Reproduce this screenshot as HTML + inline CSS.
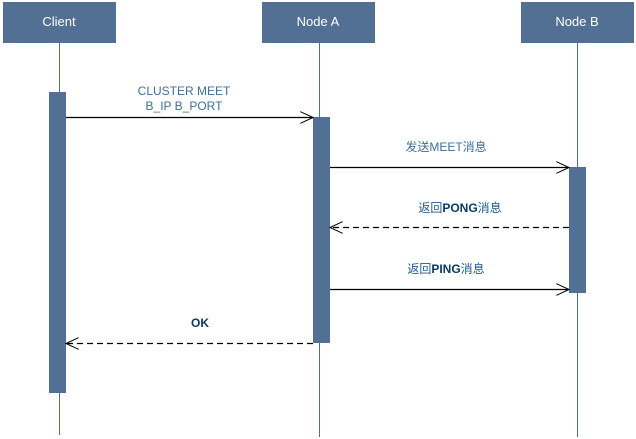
<!DOCTYPE html>
<html><head><meta charset="utf-8"><style>
html,body{margin:0;padding:0;background:#fff;}
svg{display:block}
</style></head><body>
<svg width="636" height="439" xmlns="http://www.w3.org/2000/svg" font-family="Liberation Sans, Noto Sans CJK SC, sans-serif">
<defs>
<marker id="a" markerWidth="14" markerHeight="12" refX="13" refY="6" orient="auto" markerUnits="userSpaceOnUse">
<path d="M0,0 L13,6 L0,12" fill="none" stroke="#000" stroke-width="1"/>
</marker>
</defs>
<g stroke="#4e6f93" stroke-width="1">
<line x1="59.5" y1="42" x2="59.5" y2="435"/>
<line x1="319.5" y1="42" x2="319.5" y2="437"/>
<line x1="577.5" y1="42" x2="577.5" y2="437"/>
</g>
<g fill="#517094">
<rect x="3" y="2" width="113" height="41"/>
<rect x="262" y="2" width="113" height="41"/>
<rect x="521" y="2" width="113" height="41"/>
<rect x="49" y="92" width="17" height="301"/>
<rect x="313" y="117" width="17" height="226"/>
<rect x="569" y="167" width="17" height="126"/>
</g>
<g fill="#fff" font-size="13" text-anchor="middle">
<text x="59" y="26">Client</text>
<text x="318" y="26">Node A</text>
<text x="577" y="26">Node B</text>
</g>
<g stroke="#000" stroke-width="1.2" fill="none">
<line x1="66" y1="117.5" x2="313" y2="117.5" marker-end="url(#a)"/>
<line x1="330" y1="167.5" x2="569" y2="167.5" marker-end="url(#a)"/>
<line x1="569" y1="227.5" x2="330" y2="227.5" stroke-dasharray="6,4" marker-end="url(#a)"/>
<line x1="330" y1="289.5" x2="569" y2="289.5" marker-end="url(#a)"/>
<line x1="313" y1="343.5" x2="66" y2="343.5" stroke-dasharray="6,4" marker-end="url(#a)"/>
</g>
<g fill="#3e6f9c" font-size="12" text-anchor="middle">
<text x="184" y="95">CLUSTER MEET</text>
<text x="184" y="110">B_IP B_PORT</text>
<text x="446" y="151">发送MEET消息</text>
<text x="460" y="212" fill="#1f5a8c">返回<tspan font-weight="bold" fill="#0b3a66">PONG</tspan>消息</text>
<text x="446" y="273" fill="#1f5a8c">返回<tspan font-weight="bold" fill="#0b3a66">PING</tspan>消息</text>
<text x="200" y="327" font-weight="bold" fill="#0b3a66">OK</text>
</g>
</svg>
</body></html>
